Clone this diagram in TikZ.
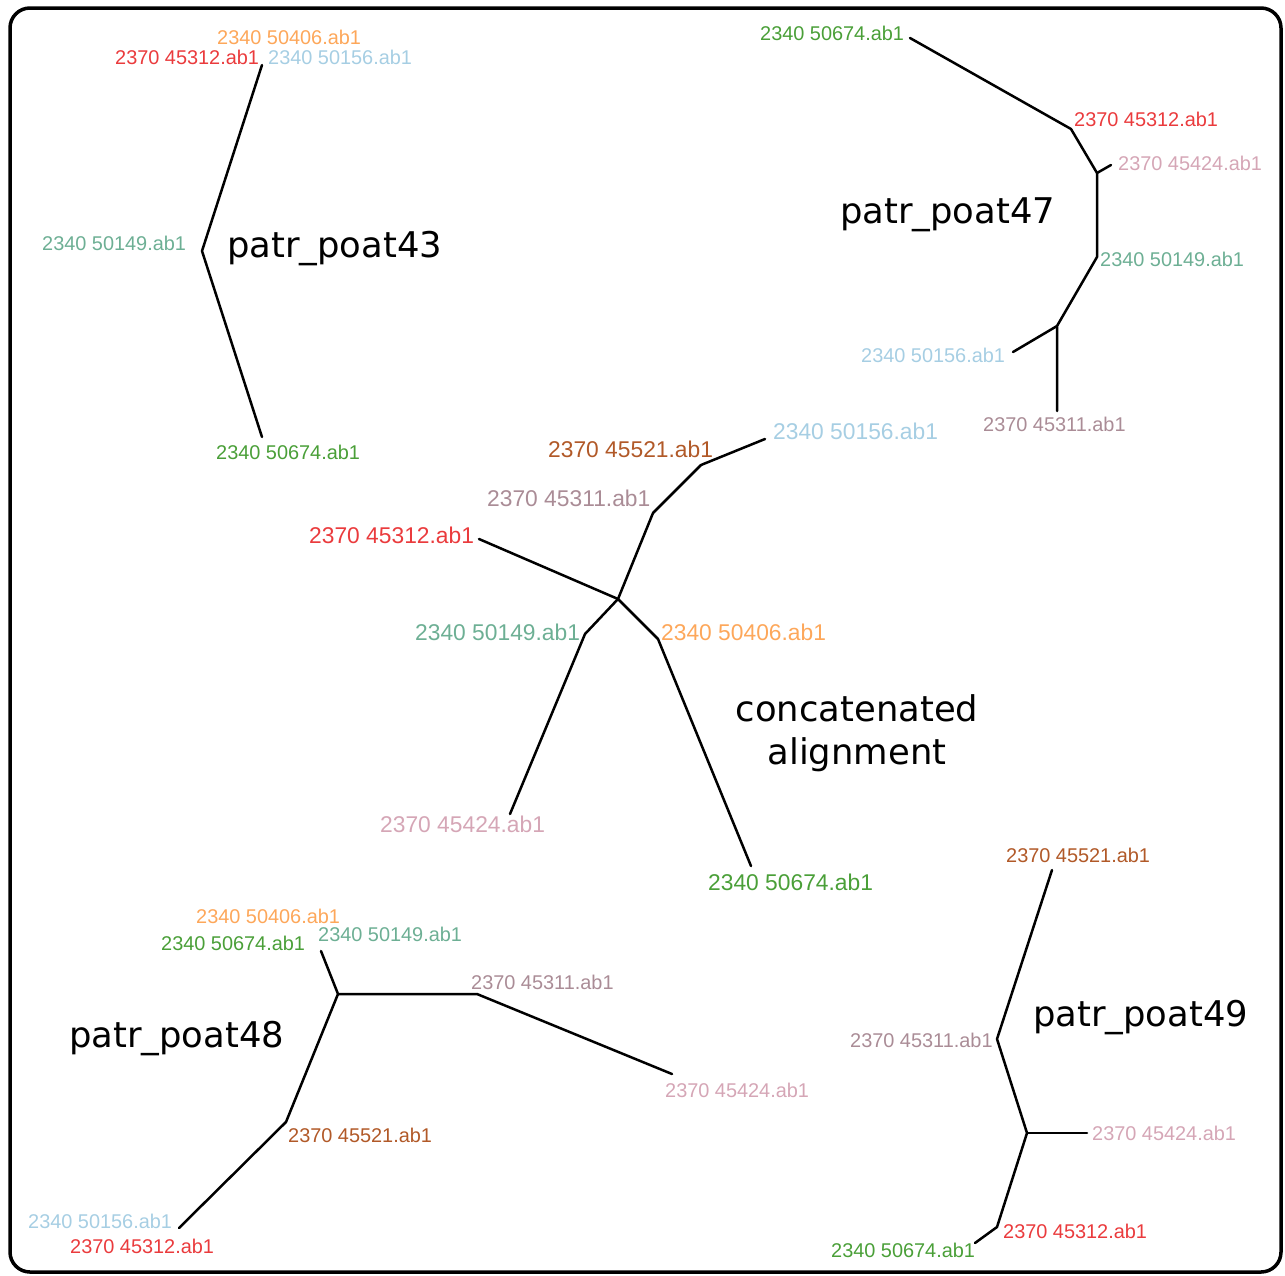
\documentclass[tikz,border=0pt]{standalone}
\usepackage{fontspec}
\newfontfamily\lblfont{Liberation Sans}
\newfontfamily\ttlfont{DejaVu Sans}
\definecolor{cOrange}{HTML}{FDA75A}
\definecolor{cRed}{HTML}{EA3B3D}
\definecolor{cLBlue}{HTML}{A6CEE3}
\definecolor{cTeal}{HTML}{6DAF94}
\definecolor{cGreen}{HTML}{4A9F38}
\definecolor{cBrown}{HTML}{B15928}
\definecolor{cMauve}{HTML}{AA8C96}
\definecolor{cPink}{HTML}{D5A6B6}
\begin{document}
\begin{tikzpicture}[x=1pt,y=-1pt,
  lbl/.style={anchor=west, inner sep=0pt, font=\lblfont\fontsize{19.9}{22}\selectfont},
  biglbl/.style={anchor=west, inner sep=0pt, font=\lblfont\fontsize{22.8}{26}\selectfont},
  ttl/.style={anchor=base west, inner sep=0pt, font=\ttlfont\fontsize{35.4}{43}\selectfont},
  branch/.style={line width=2.5pt, line cap=round, line join=round}]
\useasboundingbox (0,0) rectangle (1285,1275);
\draw[line width=3.5pt, rounded corners=20pt] (10,8) rectangle (1281,1272);

% ---- patr_poat43 ----
\coordinate (a43t) at (262,65);
\coordinate (a43m) at (202,251);
\coordinate (a43b) at (262,437);
\draw[branch] (a43t) -- (a43m) -- (a43b);
\node[lbl, text=cOrange] (t43o) at (217,37) {2340 50406.ab1};
\node[lbl, text=cRed] (t43r) at (115,57) {2370 45312.ab1};
\node[lbl, text=cLBlue] (t43b) at (268,57) {2340 50156.ab1};
\node[lbl, text=cTeal] (t43t) at (42,243) {2340 50149.ab1};
\node[lbl, text=cGreen] (t43g) at (216,452) {2340 50674.ab1};
\node[ttl] (n43) at (227,257) {patr\_poat43};

% ---- patr_poat47 ----
\coordinate (p1) at (910,38);
\coordinate (p2) at (1071,129);
\coordinate (p3) at (1097,173);
\coordinate (p4) at (1111,165);
\coordinate (p5) at (1097,257);
\coordinate (p6) at (1057,326);
\coordinate (p7) at (1013,352);
\coordinate (p8) at (1057,411);
\draw[branch] (p1) -- (p2) -- (p3) -- (p5) -- (p6) -- (p8);
\draw[branch] (p3) -- (p4);
\draw[branch] (p6) -- (p7);
\node[lbl, text=cGreen] (t47g) at (760,33) {2340 50674.ab1};
\node[lbl, text=cRed] (t47r) at (1074,119) {2370 45312.ab1};
\node[lbl, text=cPink] (t47p) at (1118,163) {2370 45424.ab1};
\node[lbl, text=cTeal] (t47t) at (1100,259) {2340 50149.ab1};
\node[lbl, text=cLBlue] (t47b) at (861,355) {2340 50156.ab1};
\node[lbl, text=cMauve] (t47m) at (983,424) {2370 45311.ab1};
\node[ttl] (n47) at (840,223) {patr\_poat47};

% ---- concatenated ----
\coordinate (c0) at (618,599);
\coordinate (c1) at (479,539);
\coordinate (c2) at (653,513);
\coordinate (c3) at (701,465);
\coordinate (c4) at (765,439);
\coordinate (c5) at (585,634);
\coordinate (c6) at (658,639);
\coordinate (c7) at (510,814);
\coordinate (c8) at (751,866);
\draw[branch] (c1) -- (c0);
\draw[branch] (c0) -- (c2) -- (c3) -- (c4);
\draw[branch] (c0) -- (c5) -- (c7);
\draw[branch] (c0) -- (c6) -- (c8);
\node[biglbl, text=cLBlue] (tcb) at (773,431) {2340 50156.ab1};
\node[biglbl, text=cBrown] (tcn) at (548,449) {2370 45521.ab1};
\node[biglbl, text=cMauve] (tcm) at (487,498) {2370 45311.ab1};
\node[biglbl, text=cRed] (tcr) at (309,535) {2370 45312.ab1};
\node[biglbl, text=cTeal] (tct) at (415,632) {2340 50149.ab1};
\node[biglbl, text=cOrange] (tco) at (661,632) {2340 50406.ab1};
\node[biglbl, text=cPink] (tcp) at (380,824) {2370 45424.ab1};
\node[biglbl, text=cGreen] (tcg) at (708,882) {2340 50674.ab1};
\node[inner sep=0pt, align=center, font=\ttlfont\fontsize{35.4}{43}\selectfont] (ncat) at (857,733) {concatenated\\alignment};

% ---- patr_poat48 ----
\coordinate (q1) at (321,951);
\coordinate (q0) at (338,994);
\coordinate (q2) at (477,994);
\coordinate (q3) at (672,1074);
\coordinate (q4) at (286,1122);
\coordinate (q5) at (179,1228);
\draw[branch] (q1) -- (q0) -- (q2) -- (q3);
\draw[branch] (q0) -- (q4) -- (q5);
\node[lbl, text=cOrange] (t48o) at (196,916) {2340 50406.ab1};
\node[lbl, text=cGreen] (t48g) at (161,943) {2340 50674.ab1};
\node[lbl, text=cTeal] (t48t) at (318,934) {2340 50149.ab1};
\node[lbl, text=cMauve] (t48m) at (471,982) {2370 45311.ab1};
\node[lbl, text=cPink] (t48p) at (665,1090) {2370 45424.ab1};
\node[lbl, text=cBrown] (t48n) at (288,1135) {2370 45521.ab1};
\node[lbl, text=cLBlue] (t48b) at (28,1221) {2340 50156.ab1};
\node[lbl, text=cRed] (t48r) at (70,1246) {2370 45312.ab1};
\node[ttl] (n48) at (69,1047) {patr\_poat48};

% ---- patr_poat49 ----
\coordinate (r1) at (1052,870);
\coordinate (r0) at (997,1039);
\coordinate (r2) at (1027,1133);
\coordinate (r3) at (1087,1133);
\coordinate (r4) at (997,1227);
\coordinate (r5) at (975,1243);
\draw[branch] (r1) -- (r0) -- (r2) -- (r4) -- (r5);
\draw[branch] (r2) -- (r3);
\node[lbl, text=cBrown] (t49n) at (1006,855) {2370 45521.ab1};
\node[lbl, text=cMauve] (t49m) at (850,1040) {2370 45311.ab1};
\node[lbl, text=cPink] (t49p) at (1092,1133) {2370 45424.ab1};
\node[lbl, text=cRed] (t49r) at (1003,1231) {2370 45312.ab1};
\node[lbl, text=cGreen] (t49g) at (831,1250) {2340 50674.ab1};
\node[ttl] (n49) at (1033,1026) {patr\_poat49};
\end{tikzpicture}
\end{document}
